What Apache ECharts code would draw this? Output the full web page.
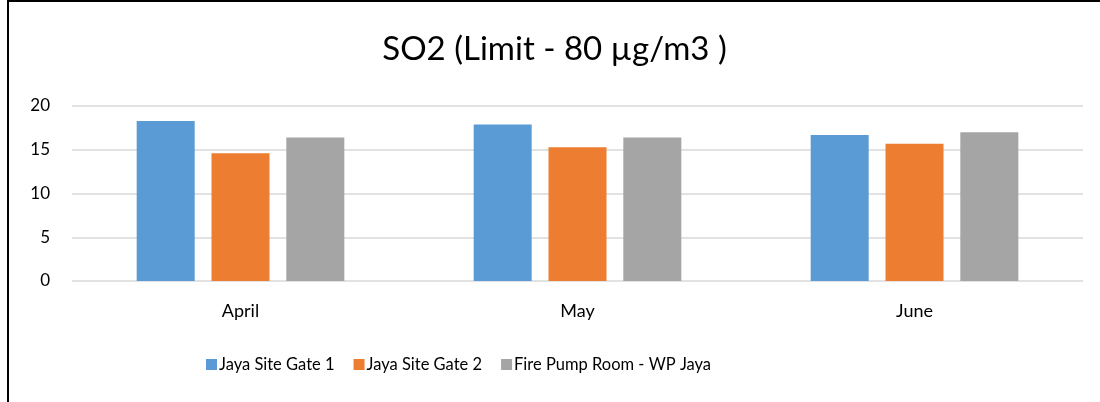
<!DOCTYPE html>
<html>
<head>
<meta charset="utf-8">
<script src="https://cdn.jsdelivr.net/npm/echarts@6/dist/echarts.min.js"></script>
<style>
  html, body { margin: 0; padding: 0; background: #fff; }
  #chart { height: 402px; box-sizing: border-box; border-left: 2px solid #000; border-top: 2px solid #000; margin-left: 7px; width: 1093px; }
</style>
</head>
<body>
<div id="chart"></div>
<script>
// data
var months = ['April', 'May', 'June']
var gate1 = [18.3, 17.9, 16.7]
var gate2 = [14.6, 15.3, 15.7]
var pumpRoom = [16.4, 16.4, 17.0]
var yTicks = [0, 5, 10, 15, 20]

var font = 'Lato, "Open Sans", sans-serif'
var chart = echarts.init(document.getElementById('chart'))

chart.setOption({
  animation: false,
  color: ['#5b9bd5', '#ed7d31', '#a5a5a5'],
  title: {
    text: 'SO2 (Limit - 80 µg/m3 )',
    left: 'center',
    top: 26,
    textStyle: { fontFamily: font, fontSize: 33, fontWeight: 'normal', color: '#000' }
  },
  grid: { left: 63, right: 17, top: 104, bottom: 121 },
  legend: {
    bottom: 24,
    left: 192,
    itemWidth: 11,
    itemHeight: 11,
    itemGap: 19,
    icon: 'rect',
    textStyle: { fontFamily: font, fontSize: 16.5, color: '#000', padding: [0, 0, 0, -3] },
    data: ['Jaya Site Gate 1', 'Jaya Site Gate 2', 'Fire Pump Room - WP Jaya']
  },
  xAxis: {
    type: 'category',
    data: months,
    axisLine: { show: false },
    axisTick: { show: false },
    axisLabel: { fontFamily: font, fontSize: 18, color: '#000', margin: 21 }
  },
  yAxis: {
    type: 'value',
    min: yTicks[0],
    max: yTicks[yTicks.length - 1],
    interval: 5,
    axisLine: { show: false },
    axisTick: { show: false },
    axisLabel: { fontFamily: font, fontSize: 17, color: '#000', margin: 22 },
    splitLine: { lineStyle: { color: '#d9d9d9', width: 1.5 } }
  },
  series: [
    { name: 'Jaya Site Gate 1', type: 'bar', data: gate1, barWidth: 58, barGap: '29%' },
    { name: 'Jaya Site Gate 2', type: 'bar', data: gate2, barWidth: 58, barGap: '29%' },
    { name: 'Fire Pump Room - WP Jaya', type: 'bar', data: pumpRoom, barWidth: 58, barGap: '29%' }
  ]
})
</script>
</body>
</html>
